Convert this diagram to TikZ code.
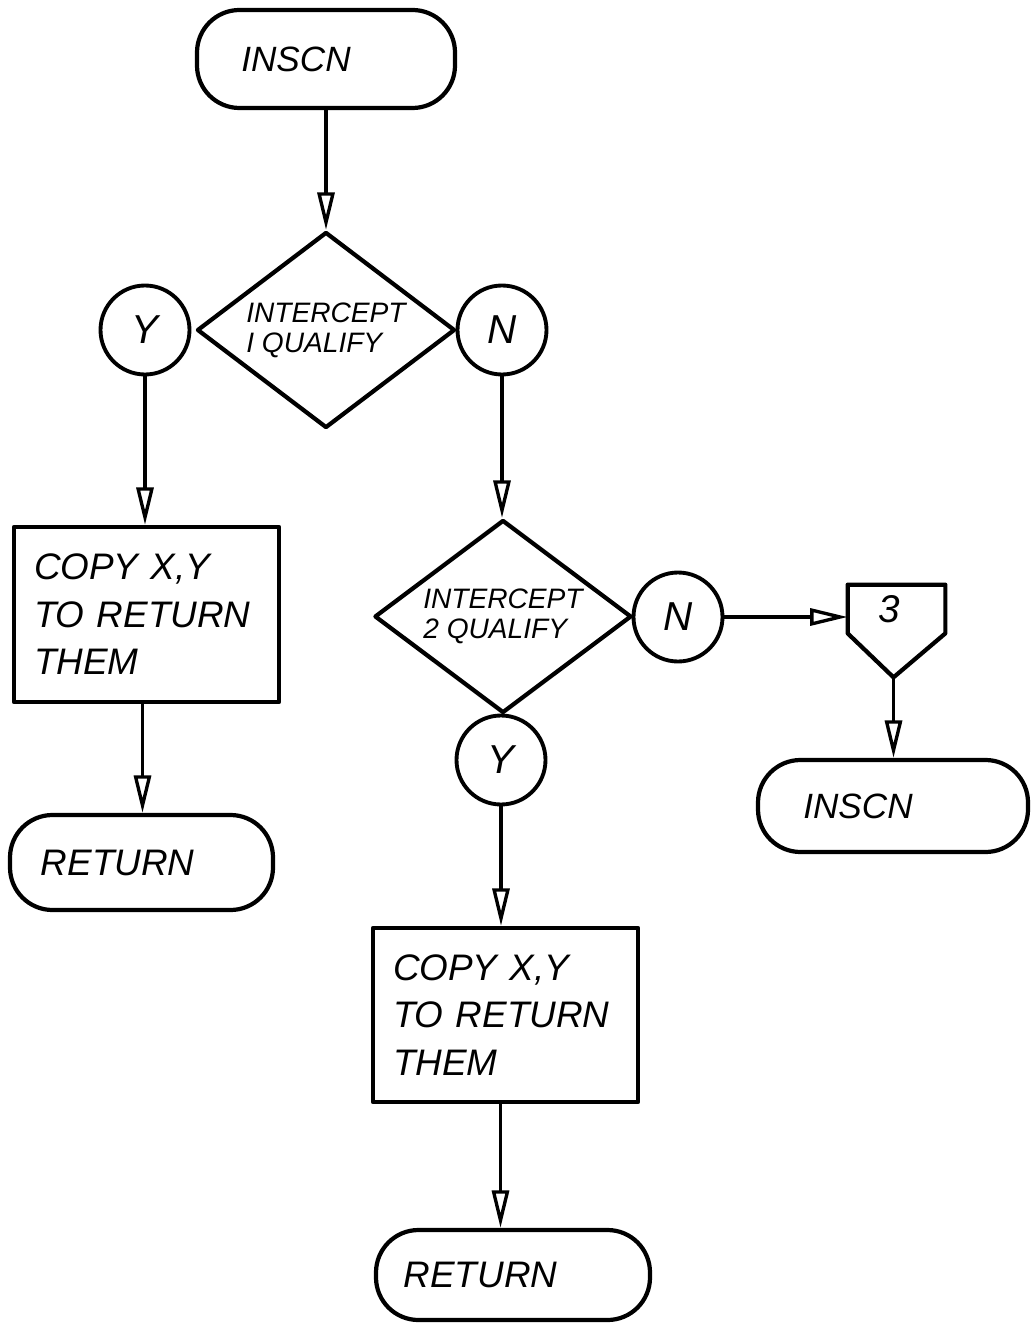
\documentclass[tikz,border=0pt]{standalone}
\usepackage{fontspec}
\setmainfont{Liberation Sans}
\usetikzlibrary{arrows.meta,positioning,calc,shapes.geometric}
\tikzset{
  term/.style   = {draw, line width=2.4pt, rectangle, rounded corners=0.85cm,
                   font=\itshape\fontsize{20}{22}\selectfont},
  decide/.style = {draw, line width=2.4pt, diamond, aspect=1.3, align=left,
                   inner sep=0pt, font=\itshape\fontsize{16}{17}\selectfont},
  conn/.style   = {draw, line width=2.2pt, circle, minimum size=1.78cm,
                   inner sep=0pt, font=\itshape\fontsize{23}{23}\selectfont},
  block/.style  = {draw, line width=2.4pt, rectangle, minimum width=5.3cm,
                   minimum height=3.5cm, text width=4.5cm, align=left,
                   font=\itshape\fontsize{21}{27}\selectfont},
  flow/.style   = {-{Triangle[open,length=7.5mm,width=3.4mm]}, line width=1.9pt},
}
\begin{document}
\begin{tikzpicture}[line join=round]
\useasboundingbox (0,0) rectangle (20.64,-26.48);
\node[term,minimum width=5.16cm,minimum height=1.96cm] (start) at (6.52,-1.18) {INSCN\hspace*{1.2cm}};
\node[decide,minimum width=5.16cm,minimum height=3.92cm] (d1) at (6.52,-6.6) {INTERCEPT\\ I QUALIFY};
\node[decide,minimum width=5.14cm,minimum height=3.86cm] (d2) at (10.06,-12.33) {INTERCEPT\\ 2 QUALIFY};
% yes/no connectors
\foreach \nm/\x/\y/\lab in {y1/2.9/-6.6/Y, n1/10.04/-6.6/N, n2/13.56/-12.34/N, y2/10.02/-15.2/Y}{
  \node[conn] (\nm) at (\x,\y) {\lab};}
\node[block] (copy1) at (2.93,-12.29) {COPY X,Y\\ TO RETURN\\ THEM};
\node[block,minimum height=3.48cm] (copy2) at (10.11,-20.3) {COPY X,Y\\ TO RETURN\\ THEM};
\node[term,minimum width=5.26cm,minimum height=1.9cm,font=\itshape\fontsize{21}{22}\selectfont] (ret1) at (2.83,-17.25) {RETURN\hspace*{0.95cm}};
\node[term,minimum width=5.48cm,minimum height=1.8cm,font=\itshape\fontsize{21}{22}\selectfont] (ret2) at (10.26,-25.5) {RETURN\hspace*{1.3cm}};
\node[term,minimum width=5.4cm,minimum height=1.84cm] (start2) at (17.86,-16.12) {INSCN\hspace*{1.4cm}};
% off-page connector 3
\node[minimum width=1.94cm,minimum height=0.96cm,font=\itshape\fontsize{22}{22}\selectfont] (off) at (17.93,-12.18) {3\hspace*{0.3cm}};
\coordinate (offtip) at ($(off.south)+(-0.06,-0.88)$);
\draw[line width=2.4pt] (off.south west) -- (off.north west) -- (off.north east) -- (off.south east) -- (offtip) -- cycle;
% connectors
\draw[flow] (start.south) -- (d1.north);
\draw[flow] (y1.south) -- (y1.south |- copy1.north);
\draw[flow] ([xshift=-0.08cm]copy1.south) -- ([xshift=-0.08cm]copy1.south |- ret1.north);
\draw[flow] (n1.south) -- (n1.south |- d2.north);
\draw[flow] (n2.east) -- (n2.east -| off.west);
\draw[flow] (offtip) -- (offtip |- start2.north);
\draw[flow] (y2.south) -- (y2.south |- copy2.north);
\draw[flow] ([xshift=-0.1cm]copy2.south) -- ([xshift=-0.1cm]copy2.south |- ret2.north);
\end{tikzpicture}
\end{document}
